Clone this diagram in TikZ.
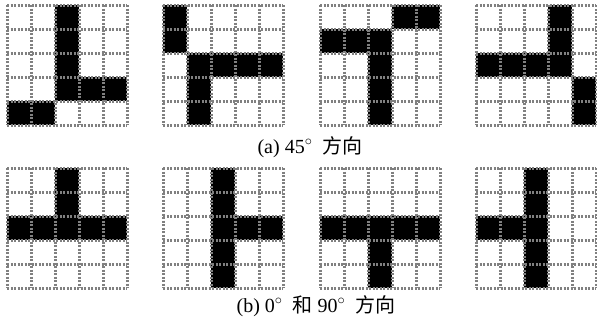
\documentclass[tikz,border=0pt]{standalone}
\usepackage{fontspec}
\setmainfont{Liberation Serif}
\newfontfamily\cjk{Noto Sans CJK SC}
\usetikzlibrary{positioning}

\tikzset{
  gridline/.style={draw=gray, line width=3pt, dash pattern=on 2pt off 1.5pt},
  cellfill/.style={fill=black},
  caption/.style={font=\fontsize{20}{22}\selectfont, inner sep=0pt},
}
% grid of 5x5 cells, top left at (#1,#2), black cells given as row/col
\newcommand{\patgrid}[3]{
  \foreach \r/\c in {#3}
    \fill[cellfill] (#1+\c*24,#2+\r*24) rectangle ++(24,24);
  \foreach \i in {0,...,5} {
    \draw[gridline] (#1+\i*24,#2) -- ++(0,120);
    \draw[gridline] (#1,#2+\i*24) -- ++(120,0);
  }
}

\begin{document}
\begin{tikzpicture}[x=1pt, y=-1pt]
    \useasboundingbox (0,0) rectangle (597,322);
    % 45 degree patterns
    \patgrid{7}{5}{0/2,1/2,2/2,3/2,3/3,3/4,4/0,4/1}
    \patgrid{163}{5}{0/0,1/0,2/1,2/2,2/3,2/4,3/1,4/1}
    \patgrid{320}{5}{0/3,0/4,1/0,1/1,1/2,2/2,3/2,4/2}
    \patgrid{476}{5}{0/3,1/3,2/0,2/1,2/2,2/3,3/4,4/4}
    \node[caption] (capa) at (310,147) {(a) 45$^\circ$\ \ {\cjk 方向}};
    % 0 and 90 degree patterns
    \patgrid{7}{168}{0/2,1/2,2/0,2/1,2/2,2/3,2/4}
    \patgrid{163}{168}{0/2,1/2,2/2,3/2,4/2,2/3,2/4}
    \patgrid{320}{168}{2/0,2/1,2/2,2/3,2/4,3/2,4/2}
    \patgrid{476}{168}{0/2,1/2,2/2,3/2,4/2,2/0,2/1}
    \node[caption] (capb) at (316,306) {(b) 0$^\circ$\ \ {\cjk 和}\ 90$^\circ$\ \ {\cjk 方向}};
\end{tikzpicture}
\end{document}
